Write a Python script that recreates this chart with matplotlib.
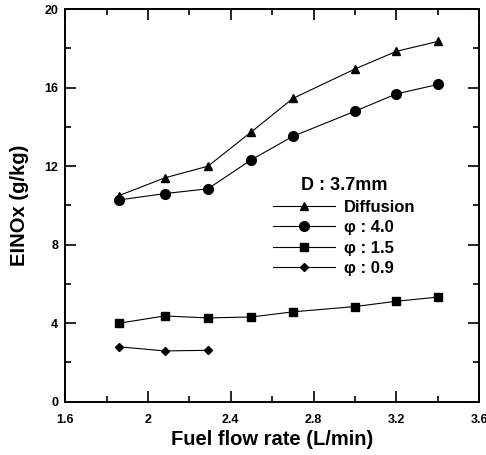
import matplotlib
matplotlib.use("Agg")
import matplotlib.pyplot as plt
from matplotlib.ticker import MultipleLocator

plt.rcParams['font.family'] = ['Liberation Sans', 'DejaVu Sans']
plt.rcParams['font.weight'] = 'bold'

flow = [1.86, 2.08, 2.29, 2.50, 2.70, 3.00, 3.20, 3.40]
diffusion = [10.5, 11.4, 12.0, 13.75, 15.45, 16.95, 17.85, 18.35]
phi_40 = [10.28, 10.6, 10.85, 12.33, 13.52, 14.8, 15.68, 16.16]
phi_15 = [4.0, 4.37, 4.27, 4.32, 4.58, 4.85, 5.12, 5.33]
flow_09 = [1.86, 2.08, 2.29]
phi_09 = [2.8, 2.59, 2.62]

fig = plt.figure(figsize=(4.86, 4.55), dpi=100)
ax = fig.add_axes([0.134, 0.117, 0.852, 0.863])

lw = 0.8
ax.plot(flow, diffusion, '-^', color='black', lw=lw, ms=6, label='Diffusion')
ax.plot(flow, phi_40, '-o', color='black', lw=lw, ms=7, label='φ : 4.0')
ax.plot(flow, phi_15, '-s', color='black', lw=lw, ms=6, label='φ : 1.5')
ax.plot(flow_09, phi_09, '-D', color='black', lw=lw, ms=4.5, label='φ : 0.9')

ax.set_xlim(1.6, 3.6)
ax.set_ylim(0, 20)
ax.xaxis.set_minor_locator(MultipleLocator(0.2))
ax.yaxis.set_major_locator(MultipleLocator(4))
ax.yaxis.set_minor_locator(MultipleLocator(2))
ax.set_xticks([1.6, 2.0, 2.4, 2.8, 3.2, 3.6])
ax.set_xticklabels(['1.6', '2', '2.4', '2.8', '3.2', '3.6'])
ax.tick_params(which='both', direction='in', top=True, right=True, width=1.2, labelsize=9)
ax.tick_params(which='major', length=8)
ax.tick_params(which='minor', length=4.5)
ax.tick_params(axis='x', which='major', pad=9)
ax.tick_params(axis='y', which='major', pad=5)
for lab in ax.get_xticklabels() + ax.get_yticklabels():
    lab.set_fontweight('bold')
for sp in ax.spines.values():
    sp.set_linewidth(1.4)

ax.set_xlabel('Fuel flow rate (L/min)', fontsize=14.5, fontweight='bold', labelpad=3)
ax.set_ylabel('EINOx (g/kg)', fontsize=14.5, fontweight='bold', labelpad=11)

leg = ax.legend(loc='upper left', bbox_to_anchor=(0.502, 0.572), frameon=False,
                title='D : 3.7mm', handlelength=3.7, fontsize=12,
                title_fontsize=13, labelspacing=0.33, handletextpad=0.55,
                borderaxespad=0, borderpad=0)
leg.get_title().set_fontweight('bold')
for t in leg.get_texts():
    t.set_fontweight('bold')

fig.savefig('out.png', dpi=100)
